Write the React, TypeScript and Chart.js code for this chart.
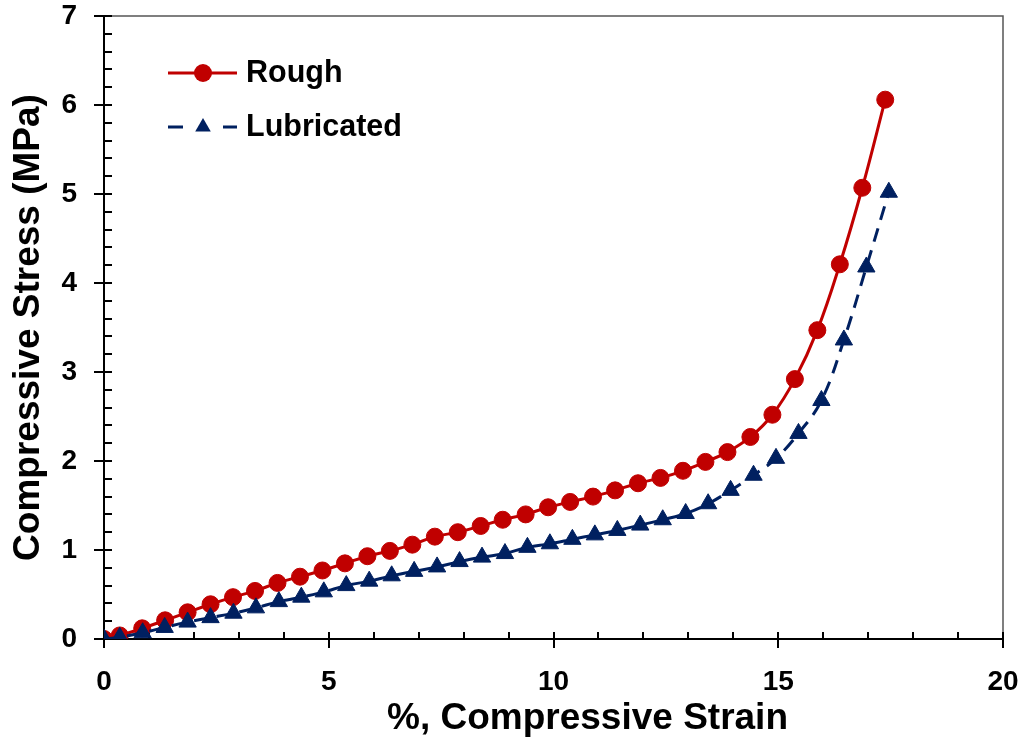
import React, { useEffect, useRef } from "react";
import { Chart, registerables } from "chart.js";

Chart.register(...registerables);

const roughStrain = [0, 0.35, 0.85, 1.36, 1.86, 2.37, 2.87, 3.36, 3.86, 4.36, 4.86, 5.36, 5.86, 6.36, 6.86, 7.36, 7.87, 8.38, 8.87, 9.38, 9.88, 10.37, 10.88, 11.37, 11.88, 12.38, 12.88, 13.38, 13.87, 14.38, 14.87, 15.37, 15.87, 16.37, 16.87, 17.38];
const roughStress = [0, 0.04, 0.12, 0.21, 0.3, 0.39, 0.47, 0.54, 0.63, 0.7, 0.77, 0.85, 0.93, 0.99, 1.06, 1.15, 1.2, 1.27, 1.34, 1.4, 1.48, 1.54, 1.6, 1.67, 1.75, 1.81, 1.89, 1.99, 2.1, 2.27, 2.52, 2.92, 3.47, 4.21, 5.07, 6.06];

const lubStrain = [0, 0.35, 0.86, 1.35, 1.86, 2.37, 2.88, 3.38, 3.89, 4.39, 4.89, 5.39, 5.9, 6.4, 6.9, 7.41, 7.91, 8.41, 8.92, 9.42, 9.92, 10.42, 10.92, 11.42, 11.93, 12.43, 12.94, 13.44, 13.94, 14.45, 14.95, 15.45, 15.96, 16.46, 16.96, 17.46];
const lubStress = [0, 0.02, 0.07, 0.13, 0.19, 0.24, 0.29, 0.35, 0.42, 0.47, 0.53, 0.6, 0.65, 0.71, 0.76, 0.81, 0.87, 0.92, 0.96, 1.03, 1.07, 1.12, 1.17, 1.22, 1.28, 1.34, 1.41, 1.52, 1.67, 1.84, 2.03, 2.31, 2.68, 3.36, 4.18, 5.02];

const seriesNames = ["Rough", "Lubricated"];
const xTitle = "%, Compressive Strain";
const yTitle = "Compressive Stress (MPa)";

const RED = "#C00000";
const BLUE = "#002060";
const FONT = "'Liberation Sans', Arial, sans-serif";

const decorPlugin = {
  id: "decor",
  beforeDatasetsDraw(chart: any) {
    const { ctx, chartArea: ca, scales } = chart;
    const x = scales.x;
    const y = scales.y;
    ctx.save();
    // top & right frame
    ctx.strokeStyle = "#555555";
    ctx.lineWidth = 1.5;
    ctx.beginPath();
    ctx.moveTo(ca.left, ca.top);
    ctx.lineTo(ca.right, ca.top);
    ctx.lineTo(ca.right, ca.bottom);
    ctx.stroke();
    // tick marks
    ctx.strokeStyle = "#000";
    ctx.lineWidth = 2;
    ctx.beginPath();
    let k = 0;
    for (let v = y.min; v <= y.max + 1e-9; v += 0.2, k++) {
      const py = Math.round(y.getPixelForValue(v));
      const major = k % 5 === 0;
      ctx.moveTo(ca.left - (major ? 10 : 0), py);
      ctx.lineTo(ca.left + 8, py);
    }
    k = 0;
    for (let v = x.min; v <= x.max + 1e-9; v += 1, k++) {
      const px = Math.round(x.getPixelForValue(v));
      const major = k % 5 === 0;
      ctx.moveTo(px, ca.bottom + (major ? 9 : 0));
      ctx.lineTo(px, ca.bottom - 7);
    }
    ctx.stroke();
    ctx.restore();
  },
  afterDraw(chart: any) {
    const { ctx, chartArea: ca } = chart;
    ctx.save();
    // x axis title
    ctx.fillStyle = "#000";
    ctx.font = `bold 37px ${FONT}`;
    ctx.textAlign = "center";
    ctx.textBaseline = "middle";
    ctx.fillText(xTitle, (ca.left + ca.right) / 2 + 34, 719);
    // legend
    const lx0 = 168, lx1 = 237, mx = 203;
    const rows = [73, 127];
    ctx.font = `bold 30.5px ${FONT}`;
    ctx.textAlign = "left";
    // Rough
    ctx.strokeStyle = RED;
    ctx.lineWidth = 3;
    ctx.beginPath();
    ctx.moveTo(lx0, rows[0]);
    ctx.lineTo(lx1, rows[0]);
    ctx.stroke();
    ctx.fillStyle = RED;
    ctx.beginPath();
    ctx.arc(mx, rows[0], 9, 0, Math.PI * 2);
    ctx.fill();
    ctx.fillStyle = "#000";
    ctx.fillText(seriesNames[0], 246, rows[0] + 1);
    // Lubricated
    ctx.strokeStyle = BLUE;
    ctx.lineWidth = 3;
    ctx.beginPath();
    ctx.moveTo(168, rows[1]);
    ctx.lineTo(183, rows[1]);
    ctx.moveTo(223, rows[1]);
    ctx.lineTo(237, rows[1]);
    ctx.stroke();
    ctx.fillStyle = BLUE;
    const r = 9;
    ctx.beginPath();
    ctx.moveTo(mx, rows[1] - r);
    ctx.lineTo(mx + r * 0.866, rows[1] + r / 2);
    ctx.lineTo(mx - r * 0.866, rows[1] + r / 2);
    ctx.closePath();
    ctx.fill();
    ctx.fillStyle = "#000";
    ctx.fillText(seriesNames[1], 246, rows[1] + 1);
    ctx.restore();
  },
};

export default function App() {
  const ref = useRef<HTMLCanvasElement>(null);
  useEffect(() => {
    if (!ref.current) return;
    const tickFont = { family: FONT, size: 28, weight: "bold" as const, lineHeight: 1.1 };
    const chart = new Chart(ref.current, {
      type: "line",
      data: {
        datasets: [
          {
            label: seriesNames[0],
            data: roughStrain.map((v, i) => ({ x: v, y: roughStress[i] })),
            borderColor: RED,
            backgroundColor: RED,
            borderWidth: 3,
            pointStyle: "circle",
            pointRadius: 8.5,
            pointBorderWidth: 1,
            pointBackgroundColor: RED,
            pointBorderColor: RED,
            tension: 0.4,
            order: 1,
          },
          {
            label: seriesNames[1],
            data: lubStrain.map((v, i) => ({ x: v, y: lubStress[i] })),
            borderColor: BLUE,
            backgroundColor: BLUE,
            borderWidth: 3,
            borderDash: [14, 9],
            pointStyle: "triangle",
            pointRadius: 10,
            pointBorderWidth: 1,
            pointBackgroundColor: BLUE,
            pointBorderColor: BLUE,
            tension: 0.4,
            order: 0,
          },
        ],
      },
      options: {
        responsive: false,
        animation: false,
        layout: { padding: { top: 16, right: 23, left: 0, bottom: 0 } },
        plugins: { legend: { display: false }, tooltip: { enabled: false } },
        scales: {
          x: {
            type: "linear",
            min: 0,
            max: 20,
            ticks: { stepSize: 5, font: tickFont, color: "#000", padding: 0, maxRotation: 0 },
            grid: { display: true, drawOnChartArea: false, drawTicks: true, tickLength: 28, tickColor: "rgba(0,0,0,0)", color: "rgba(0,0,0,0)" },
            border: { display: true, color: "#000", width: 2 },
            afterFit: (s: any) => {
              s.height = 103;
            },
          },
          y: {
            type: "linear",
            min: 0,
            max: 7,
            ticks: { stepSize: 1, font: tickFont, color: "#000", padding: 0 },
            grid: { display: true, drawOnChartArea: false, drawTicks: true, tickLength: 27, tickColor: "rgba(0,0,0,0)", color: "rgba(0,0,0,0)" },
            border: { display: true, color: "#000", width: 2 },
            title: {
              display: true,
              text: yTitle,
              color: "#000",
              font: { family: FONT, size: 37, weight: "bold" },
              padding: { top: 7, bottom: 0 },
            },
            afterFit: (s: any) => {
              s.width = 104;
            },
          },
        },
      },
      plugins: [decorPlugin],
    });
    return () => chart.destroy();
  }, []);
  return (
    <div style={{ position: "absolute", left: 0, top: 0, width: 1026, height: 742, background: "#fff" }}>
      <canvas ref={ref} width={1026} height={742} />
    </div>
  );
}
